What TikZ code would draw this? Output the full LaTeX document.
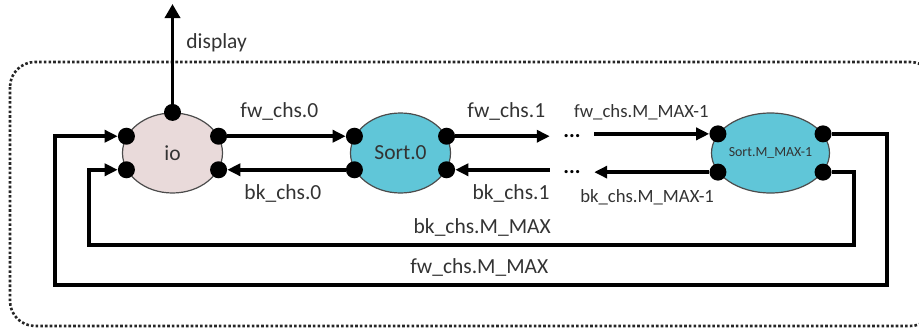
\documentclass[tikz,border=0pt]{standalone}
\usepackage{fontspec}
\setmainfont{Carlito}
\usetikzlibrary{arrows.meta,
                shapes.geometric}

\definecolor{ioPink}{RGB}{233,218,218}
\definecolor{sortCyan}{RGB}{96,198,216}

\begin{document}
\begin{tikzpicture}%
            [x = 1pt, y = -1pt,
             proc/.style = {ellipse, draw = black!70, line width = 1.2pt, minimum width = 100pt,
                            minimum height = 80pt, inner sep = 0pt, text = black!80,
                            font = \fontsize{21.5}{24}\selectfont},
             port/.style = {circle, fill = black, minimum size = 17pt, inner sep = 0pt},
             wire/.style = {line width = 3.8pt, -{Triangle[length = 13pt, width = 12pt]}},
             lbl/.style = {inner sep = 0pt, text = black!80, font = \fontsize{21.5}{24}\selectfont},
             lblsmall/.style = {lbl, font = \fontsize{18.7}{22}\selectfont},
             dotsbox/.style = {inner sep = 0pt, minimum width = 44pt, font = \bfseries\fontsize{21.5}{24}\selectfont}]
            \useasboundingbox (0,0) rectangle (919,332);
            \begin{scope}
                \clip (0,0) rectangle (919,332);
                \draw [line width = 2.6pt, dash pattern = on 2.6pt off 2.1pt, rounded corners = 25pt, black!85]
                    (10,62) rectangle (935,326);
            \end{scope}

            \node [proc, fill = ioPink] (io) at (172.5,153) {io};
            \node [proc, fill = sortCyan] (sort0) at (400.5,153) {Sort.0};
            \node [proc, fill = sortCyan, font = \fontsize{13.9}{16}\selectfont] (sortM) at (770.5,153) {Sort.M\_MAX-1};

            \foreach \p in {io, sort0, sortM}
                \foreach \a in {20, 160, 200, 340}
                    \node [port] (\p-\a) at (\p.\a) {};
            \node [port] (io-90) at (io.90) {};

            \coordinate (dispend) at (172.5,4);
            \draw [line width = 3.8pt, -{Triangle[length = 14pt, width = 15pt]}] (io-90) -- node [lbl, pos = 0.61, right = 12pt] (ldisp) {display} (dispend);

            \node [dotsbox] (fwdots) at (572,136.4) {...};
            \node [dotsbox] (bkdots) at (572,172) {...};

            \draw [wire] (io-20) -- node [lbl, pos = 0.44, above = 14pt] (lfw0) {fw\_chs.0} (sort0-160);
            \draw [wire] (sort0-200) -- node [lbl, pos = 0.53, below = 13pt] (lbk0) {bk\_chs.0} (io-340);
            \draw [wire] (sort0-20) -- node [lbl, pos = 0.54, above = 14pt] (lfw1) {fw\_chs.1} (sort0-20 -| fwdots.west);
            \draw [wire] (bkdots.west |- sort0-340) -- node [lbl, pos = 0.41, below = 13pt] (lbk1) {bk\_chs.1} (sort0-340);
            \draw [wire] (fwdots.east |- sortM-160) -- node [lblsmall, pos = 0.41, above = 12pt] (lfwm1) {fw\_chs.M\_MAX-1} (sortM-160);
            \draw [wire] (sortM-200) -- node [lblsmall, pos = 0.54, below = 15pt] (lbkm1) {bk\_chs.M\_MAX-1} (sortM-200 -| bkdots.east);

            \coordinate (fwr) at (887,285);
            \coordinate (fwl) at (55,285);
            \coordinate (bkr) at (854,245);
            \coordinate (bkl) at (89,245);
            \draw [wire] (sortM-20) -| (fwr) -- node [lbl, pos = 0.49, above = 7pt] (lfwm) {fw\_chs.M\_MAX} (fwl) |- (io-160);
            \draw [wire] (sortM-340) -| (bkr) -- node [lbl, pos = 0.486, above = 7pt] (lbkm) {bk\_chs.M\_MAX} (bkl) |- (io-200);
        \end{tikzpicture}
\end{document}
